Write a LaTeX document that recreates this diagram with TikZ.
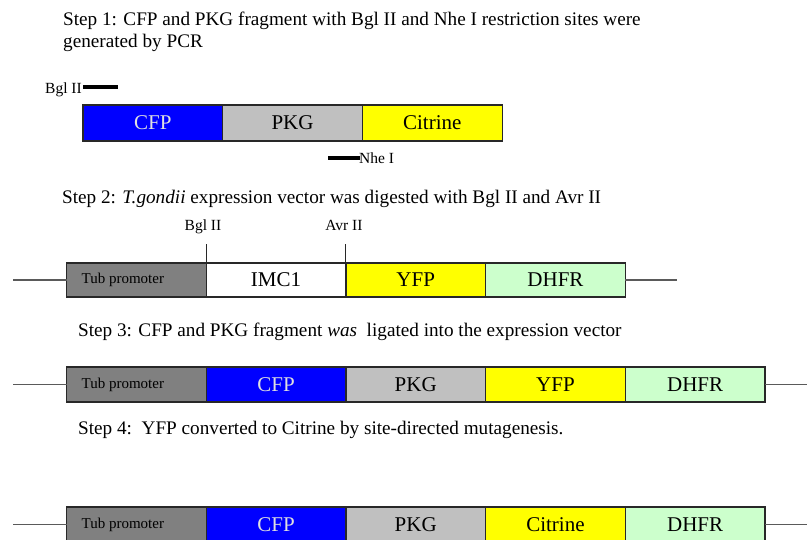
\documentclass[tikz,border=0pt]{standalone}
\usepackage{fontspec}
\setmainfont{Liberation Serif}
\definecolor{tubgray}{RGB}{128,128,128}
\definecolor{cfpblue}{RGB}{0,0,255}
\definecolor{pkggray}{RGB}{192,192,192}
\definecolor{yfpyellow}{RGB}{255,255,0}
\definecolor{dhfrgreen}{RGB}{204,255,204}
\definecolor{edgegray}{RGB}{40,40,40}
\definecolor{wiregray}{RGB}{90,90,90}
\begin{document}
\begin{tikzpicture}[x=1pt,y=-1pt,
  gene/.style={draw=edgegray, line width=1.2pt, anchor=north west, inner sep=0pt, outer sep=0pt,
    minimum width=139.7pt, minimum height=35pt, font=\fontsize{21}{21}\selectfont},
  genesm/.style={gene, minimum height=36pt},
  steptext/.style={anchor=base west, inner sep=0pt, font=\fontsize{19.2}{22}\selectfont},
  sitelabel/.style={inner sep=0pt, font=\fontsize{15.5}{16}\selectfont},
  tubtext/.style={anchor=west, inner sep=0pt, font=\fontsize{15}{15}\selectfont},
  wire/.style={draw=wiregray, line width=1.3pt},
  sitebar/.style={draw=black, line width=3.5pt},
  cutline/.style={draw=edgegray, line width=1pt}]
\useasboundingbox (0,0) rectangle (807,539);

% ---------- Step 1 ----------
\node[steptext] (t1a) at (63,25) {Step 1: CFP and PKG fragment with Bgl II and Nhe I restriction sites were};
\node[steptext] (t1b) at (63,47) {generated by PCR};

\node[genesm, fill=cfpblue, text=white!88!black] (s1cfp) at (83,105) {CFP};
\node[genesm, fill=pkggray] (s1pkg) at (s1cfp.north east) {PKG};
\node[genesm, fill=yfpyellow] (s1cit) at (s1pkg.north east) {Citrine};

\coordinate (bglA) at (83,87);
\coordinate (bglB) at (118,87);
\draw[sitebar] (bglA) -- (bglB);
\node[sitelabel, anchor=base east] (bgl1) at (82,93) {Bgl II};

\coordinate (nheA) at (328,158);
\coordinate (nheB) at (360,158);
\draw[sitebar] (nheA) -- (nheB);
\node[sitelabel, anchor=base west] (nhe1) at (359,163) {Nhe I};

% ---------- Step 2 ----------
\node[steptext] (t2) at (62,203) {Step 2: \textit{T.gondii} expression vector was digested with Bgl II and Avr II};

\node[gene, fill=tubgray, minimum height=34pt] (s2tub) at (66.5,263) {};
\node[tubtext] (s2tubt) at ([xshift=15pt]s2tub.west) {Tub promoter};
\node[gene, fill=white, minimum height=34pt] (s2imc) at (s2tub.north east) {IMC1};
\node[gene, fill=yfpyellow, minimum height=34pt] (s2yfp) at (s2imc.north east) {YFP};
\node[gene, fill=dhfrgreen, minimum height=34pt] (s2dhfr) at (s2yfp.north east) {DHFR};

\coordinate (s2l) at (13,280);
\coordinate (s2r) at (677,280);
\draw[wire] (s2l) -- (s2tub.west);
\draw[wire] (s2dhfr.east) -- (s2r);

\node[sitelabel, anchor=base] (bgl2) at (203,230) {Bgl II};
\node[sitelabel, anchor=base] (avr2) at (344,230) {Avr II};
\coordinate (bglcut) at ([yshift=19pt]s2imc.north west);
\coordinate (avrcut) at ([yshift=19pt]s2yfp.north west);
\draw[cutline] (bglcut) -- (s2imc.north west);
\draw[cutline] (avrcut) -- (s2yfp.north west);

% ---------- Step 3 ----------
\node[steptext] (t3) at (78,336) {Step 3: CFP and PKG fragment \textit{was}\ \ ligated into the expression vector};

\node[gene, fill=tubgray] (s3tub) at (66.5,367) {};
\node[tubtext] (s3tubt) at ([xshift=15pt]s3tub.west) {Tub promoter};
\node[gene, fill=cfpblue, text=white!88!black] (s3cfp) at (s3tub.north east) {CFP};
\node[gene, fill=pkggray] (s3pkg) at (s3cfp.north east) {PKG};
\node[gene, fill=yfpyellow] (s3yfp) at (s3pkg.north east) {YFP};
\node[gene, fill=dhfrgreen] (s3dhfr) at (s3yfp.north east) {DHFR};

\coordinate (s3l) at (13,384.5);
\coordinate (s3r) at (808,384.5);
\draw[wire] (s3l) -- (s3tub.west);
\draw[wire] (s3dhfr.east) -- (s3r);

% ---------- Step 4 ----------
\node[steptext] (t4) at (78,434) {Step 4:\ \ YFP converted to Citrine by site-directed mutagenesis.};

\node[gene, fill=tubgray] (s4tub) at (66.5,507) {};
\node[tubtext] (s4tubt) at ([xshift=15pt]s4tub.west) {Tub promoter};
\node[gene, fill=cfpblue, text=white!88!black] (s4cfp) at (s4tub.north east) {CFP};
\node[gene, fill=pkggray] (s4pkg) at (s4cfp.north east) {PKG};
\node[gene, fill=yfpyellow] (s4cit) at (s4pkg.north east) {Citrine};
\node[gene, fill=dhfrgreen] (s4dhfr) at (s4cit.north east) {DHFR};

\coordinate (s4l) at (13,524.5);
\coordinate (s4r) at (808,524.5);
\draw[wire] (s4l) -- (s4tub.west);
\draw[wire] (s4dhfr.east) -- (s4r);
\end{tikzpicture}
\end{document}
